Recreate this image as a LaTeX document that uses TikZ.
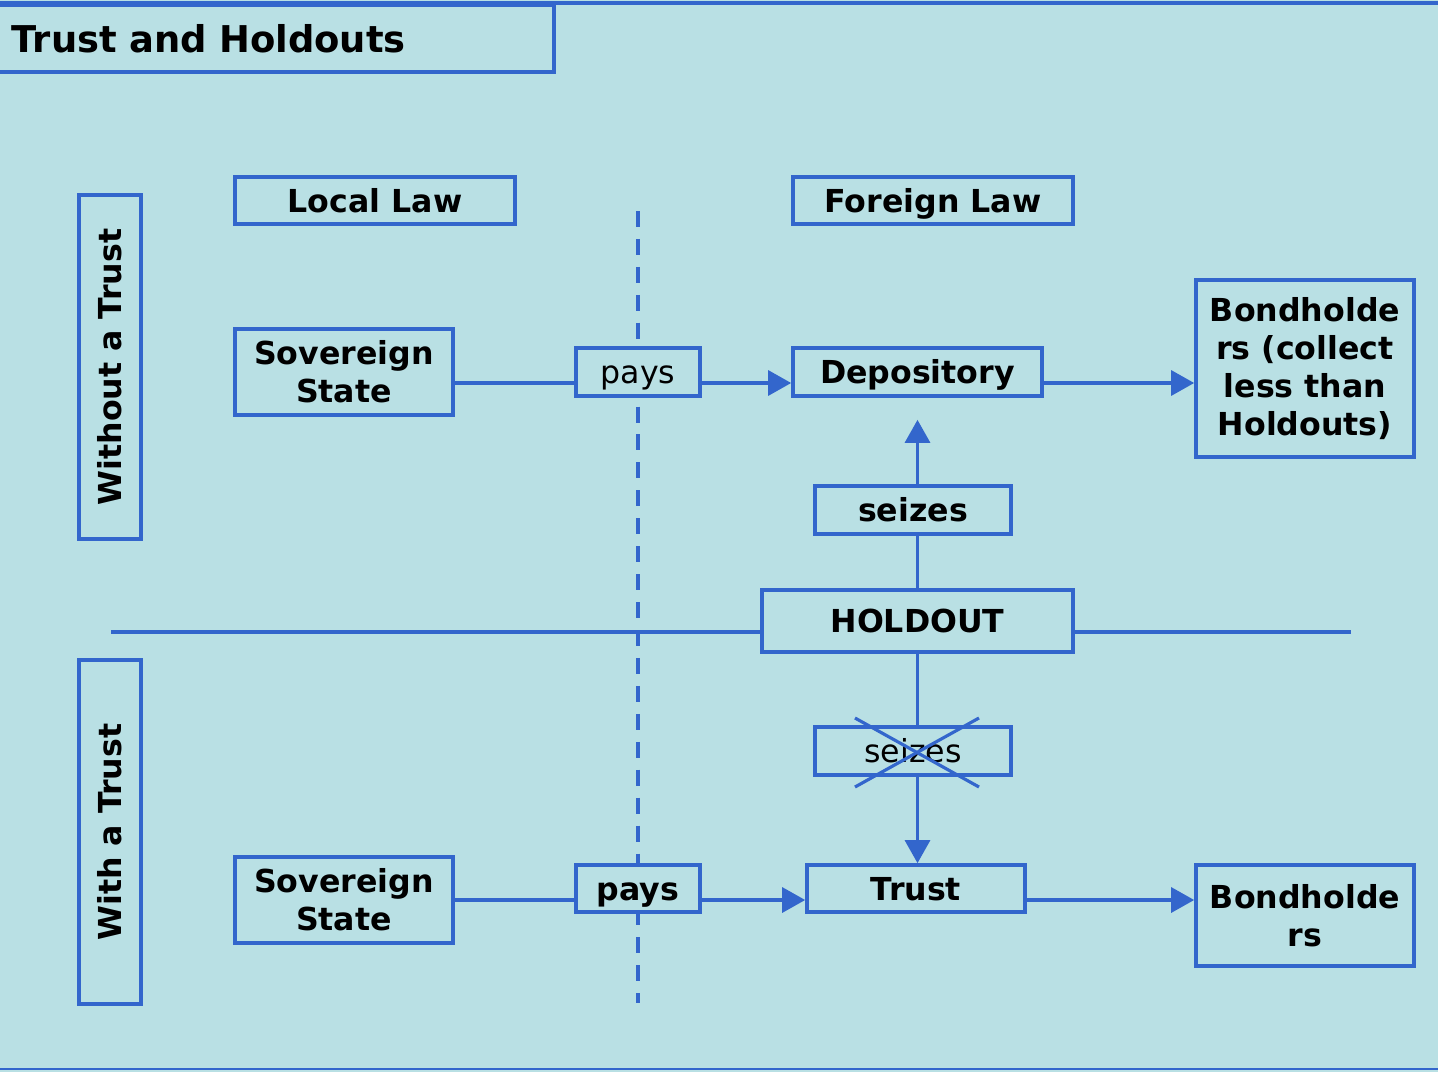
\documentclass[tikz,border=0pt]{standalone}
\usepackage{fontspec}
\setmainfont{DejaVu Sans}
\usetikzlibrary{arrows.meta,positioning,calc}
\definecolor{Sea}{HTML}{B9E0E4}
\definecolor{Edge}{HTML}{3366CC}

\begin{document}
\begin{tikzpicture}[x=0.02cm,y=-0.02cm,
    box/.style={draw=Edge,fill=Sea,line width=2.1pt,inner sep=0pt,align=center,
      font=\fontsize{18}{21.5}\selectfont\bfseries},
    oneline/.style={text height=18pt,text depth=4.5pt},
    thin/.style={box,font=\fontsize{18}{21.5}\selectfont},
    side/.style={box,oneline,rotate=90,minimum width=6.88cm,minimum height=1.24cm},
    link/.style={Edge,line width=1.8pt},
    flow/.style={link,-{Triangle[length=0.46cm,width=0.5cm]}}
  ]
    \useasboundingbox (0,0) rectangle (1438,1072);
    \fill[Sea] (0,0) rectangle (1438,1072);
    \draw[Edge,line width=2pt] (0,3) -- (1438,3);
    \draw[Edge,line width=1.4pt] (0,1069) -- (1438,1069);
    \node[draw=Edge,line width=2.1pt,anchor=west,minimum height=1.34cm,inner xsep=0.3cm,
      text width=10.54cm,align=left,font=\fontsize{21}{24}\selectfont\bfseries]
      (title) at (-5,38.5) {Trust and Holdouts};
    % the two kinds of law
    \coordinate (dashTop) at (638,211);
    \coordinate (dashBot) at (638,1003);
    \draw[Edge,line width=2.3pt,dash pattern=on 9.1pt off 6.8pt] (dashTop) -- (dashBot);
    \node[box,oneline,minimum width=5.6cm,minimum height=0.94cm] (local) at (375,200.5) {Local Law};
    \node[box,oneline,minimum width=5.6cm,minimum height=0.94cm] (foreign) at (933,200.5) {Foreign Law};
    \node[side] (without) at (110,367) {Without a Trust};
    \node[side] (with) at (110,832) {With a Trust};
    % divider
    \coordinate (divL) at (111,632);
    \coordinate (divR) at (1351,632);
    \node[box,oneline,minimum width=6.22cm,minimum height=1.24cm] (hold) at (917.5,621) {HOLDOUT};
    \draw[link] (divL) -- (hold.west |- divL);
    \draw[link] (hold.east |- divL) -- (divR);
    % without a trust
    \coordinate (rowA) at (0,383);
    \node[box,minimum width=4.36cm,minimum height=1.72cm] (sov1) at (344,372) {Sovereign\\State};
    \node[thin,oneline,minimum width=2.48cm,minimum height=0.96cm] (pays1) at (638,372) {pays};
    \node[box,oneline,minimum width=4.98cm,minimum height=0.96cm] (depo) at (917.5,372) {Depository};
    \node[box,minimum width=4.36cm,minimum height=3.54cm] (bond1) at (1305,368.5)
      {Bondholde\\rs (collect\\less than\\Holdouts)};
    \node[box,oneline,minimum width=3.92cm,minimum height=0.96cm] (seize1) at (913,510) {seizes};
    \draw[link] (sov1.east |- rowA) -- (pays1.west |- rowA);
    \draw[flow] (pays1.east |- rowA) -- (depo.west |- rowA);
    \draw[flow] (depo.east |- rowA) -- (bond1.west |- rowA);
    \draw[link] (hold.north) -- (hold.north |- seize1.south);
    \draw[flow,shorten >=0.44cm] (hold.north |- seize1.north) -- (hold.north |- depo.south);
    % with a trust
    \coordinate (rowB) at (0,900);
    \node[box,minimum width=4.36cm,minimum height=1.72cm] (sov2) at (344,900) {Sovereign\\State};
    \node[box,oneline,minimum width=2.48cm,minimum height=0.94cm] (pays2) at (638,888.5) {pays};
    \node[box,oneline,minimum width=4.36cm,minimum height=0.94cm] (trust) at (916,888.5) {Trust};
    \node[box,minimum width=4.36cm,minimum height=2.02cm] (bond2) at (1305,915.5) {Bondholde\\rs};
    \node[thin,oneline,minimum width=3.92cm,minimum height=0.96cm] (seize2) at (913,751) {seizes};
    \draw[link] (sov2.east |- rowB) -- (pays2.west |- rowB);
    \draw[flow] (pays2.east |- rowB) -- (trust.west |- rowB);
    \draw[flow] (trust.east |- rowB) -- (bond2.west |- rowB);
    \draw[link] (hold.south) -- (hold.south |- seize2.north);
    \draw[flow] (hold.south |- seize2.south) -- (hold.south |- trust.north);
    % crossed out
    \coordinate (xa) at (855,718);
    \coordinate (xb) at (979,787);
    \coordinate (xc) at (855,787);
    \coordinate (xd) at (979,718);
    \draw[link] (xa) -- (xb);
    \draw[link] (xc) -- (xd);
  \end{tikzpicture}
\end{document}
